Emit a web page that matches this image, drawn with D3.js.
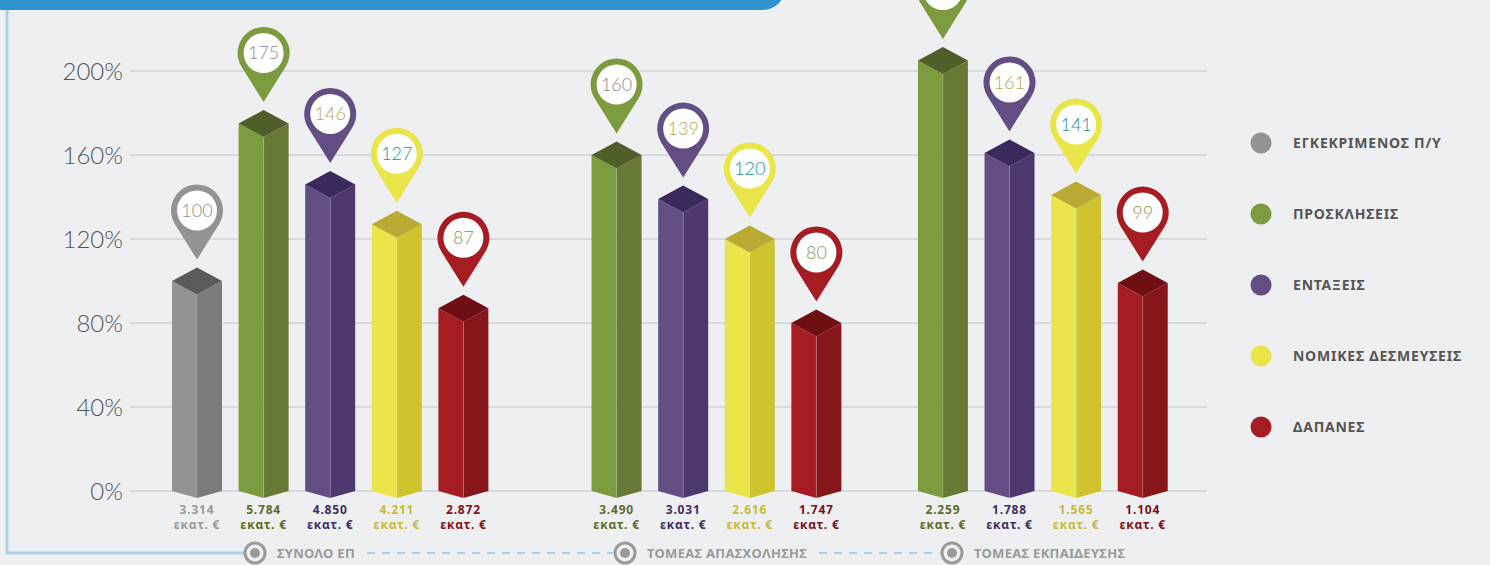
<!DOCTYPE html>
<html>
<head>
<meta charset="utf-8">
<script src="https://cdn.jsdelivr.net/npm/d3@7"></script>
<style>
	body { margin: 0; background: #eeeff1; }
	svg { display: block; }
	.tick-label { font-family: Lato, "Open Sans", sans-serif; font-weight: 300; font-size: 24px; fill: #555; }
	.pin-label { font-family: Lato, "Open Sans", sans-serif; font-weight: 300; font-size: 18px; }
	.amount { font-family: "Noto Sans", Lato, sans-serif; font-weight: 700; font-size: 12px; letter-spacing: 0.8px; }
	.legend-label { font-family: "Noto Sans", Lato, sans-serif; font-weight: 700; font-size: 14px; fill: #555; letter-spacing: 0.8px; }
	.group-label { font-family: "Noto Sans", Lato, sans-serif; font-weight: 700; font-size: 13px; fill: #9a9a9a; letter-spacing: 0.3px; }
</style>
</head>
<body>
<div id="chart"></div>
<script>

// data
const groups = ["ΣΥΝΟΛΟ ΕΠ", "ΤΟΜΕΑΣ ΑΠΑΣΧΟΛΗΣΗΣ", "ΤΟΜΕΑΣ ΕΚΠΑΙΔΕΥΣΗΣ"]
const series = ["ΕΓΚΕΚΡΙΜΕΝΟΣ Π/Υ", "ΠΡΟΣΚΛΗΣΕΙΣ", "ΕΝΤΑΞΕΙΣ", "ΝΟΜΙΚΕΣ ΔΕΣΜΕΥΣΕΙΣ", "ΔΑΠΑΝΕΣ"]

const pctTotal = [100, 175, 146, 127, 87]
const pctEmployment = [null, 160, 139, 120, 80]
const pctEducation = [null, 205, 161, 141, 99]

const amountTotal = ["3.314", "5.784", "4.850", "4.211", "2.872"]
const amountEmployment = [null, "3.490", "3.031", "2.616", "1.747"]
const amountEducation = [null, "2.259", "1.788", "1.565", "1.104"]
const amountUnit = "εκατ. €"

const yTicks = [0, 40, 80, 120, 160, 200]

// colours per series: light face, dark face, top, pin text, amount text
const faceLight = ["#939393", "#7c9a3e", "#624e82", "#e9e54b", "#a51c22"]
const faceDark = ["#7b7b7b", "#677a35", "#4d386e", "#cfc42e", "#87161b"]
const faceTop = ["#5a5a5a", "#4e5f2a", "#3a2a5c", "#b8aa33", "#6e0f14"]
const pinText = ["#8c8c8c", "#8c8c8c", "#b3a84c", "#2b8d99", "#8a9a45"]
const amountColor = ["#9a9a9a", "#5a6e25", "#3e2e66", "#c9bb35", "#7e1216"]

class PinChart {

	constructor(parentElement){
		this.parentElement = parentElement
		this.pct = [pctTotal, pctEmployment, pctEducation]
		this.amount = [amountTotal, amountEmployment, amountEducation]
		this.initVis()
	}

	initVis(){
		let vis = this
		vis.width = 1490
		vis.height = 565

		vis.svg = d3.select(vis.parentElement).append("svg")
			.attr("width", vis.width)
			.attr("height", vis.height)

		vis.y = d3.scaleLinear()
			.domain([0, 200])
			.range([491, 71])

		// bars sit on slots, groups are shifted by an offset in slots
		vis.groupOffset = [0, 5.3, 10.2]
		vis.x = d3.scaleLinear()
			.domain([0, 1])
			.range([197, 263.6])

		vis.hw = 25    // half width of the prism
		vis.dt = 13.5  // half height of top diamond
		vis.db = 7     // depth of the bottom V

		// frame: blue banner and light blue line
		vis.svg.append("rect")
			.attr("x", -30).attr("y", -40)
			.attr("width", 815).attr("height", 50)
			.attr("rx", 22)
			.attr("fill", "#2f93d0")

		vis.svg.append("path")
			.attr("d", "M7,10 L7,553 L244,553")
			.attr("fill", "none")
			.attr("stroke", "#a9d0ea")
			.attr("stroke-width", 3)

		// grid
		vis.svg.selectAll(".grid")
			.data(yTicks)
			.enter()
			.append("line")
			.attr("class", "grid")
			.attr("x1", 130)
			.attr("x2", 1207)
			.attr("y1", d => vis.y(d))
			.attr("y2", d => vis.y(d))
			.attr("stroke", "#d9dadd")
			.attr("stroke-width", 2)

		vis.svg.selectAll(".tick-label")
			.data(yTicks)
			.enter()
			.append("text")
			.attr("class", "tick-label")
			.attr("x", 123)
			.attr("y", d => vis.y(d))
			.attr("dy", "0.36em")
			.attr("text-anchor", "end")
			.text(d => d + "%")

		vis.wrangleData()
	}

	wrangleData(){
		let vis = this
		vis.bars = []
		groups.forEach(function(g, gi){
			vis.pct[gi].forEach(function(v, si){
				if (v == null) return
				vis.bars.push({
					group: gi,
					series: si,
					value: v,
					amount: vis.amount[gi][si],
					cx: vis.x(vis.groupOffset[gi] + si)
				})
			})
		})
		vis.updateVis()
	}

	updateVis(){
		let vis = this
		let hw = vis.hw, dt = vis.dt, db = vis.db
		let y0 = vis.y(0)

		let bar = vis.svg.selectAll(".bar")
			.data(vis.bars)
			.enter()
			.append("g")
			.attr("class", "bar")

		bar.append("path")
			.attr("fill", d => faceLight[d.series])
			.attr("d", function(d){
				let yc = vis.y(d.value)
				return "M" + (d.cx - hw) + "," + yc + "L" + d.cx + "," + (yc + dt) +
					"L" + d.cx + "," + (y0 + db) + "L" + (d.cx - hw) + "," + y0 + "Z"
			})

		bar.append("path")
			.attr("fill", d => faceDark[d.series])
			.attr("d", function(d){
				let yc = vis.y(d.value)
				return "M" + d.cx + "," + (yc + dt) + "L" + (d.cx + hw) + "," + yc +
					"L" + (d.cx + hw) + "," + y0 + "L" + d.cx + "," + (y0 + db) + "Z"
			})

		bar.append("path")
			.attr("fill", d => faceTop[d.series])
			.attr("d", function(d){
				let yc = vis.y(d.value)
				return "M" + d.cx + "," + (yc - dt) + "L" + (d.cx + hw) + "," + yc +
					"L" + d.cx + "," + (yc + dt) + "L" + (d.cx - hw) + "," + yc + "Z"
			})

		// thin highlight on the front edge
		bar.append("line")
			.attr("x1", d => d.cx).attr("x2", d => d.cx)
			.attr("y1", d => vis.y(d.value) + dt)
			.attr("y2", y0 + db)
			.attr("stroke", "#ffffff")
			.attr("stroke-opacity", 0.18)
			.attr("stroke-width", 1)

		// pins
		let R = 26, r = 20, dist = 49
		let a = Math.acos(R / dist)
		let sx = R * Math.sin(a), sy = R * Math.cos(a)
		let pinPath = "M0," + dist + "L" + sx + "," + sy +
			"A" + R + "," + R + " 0 1 0 " + (-sx) + "," + sy + "Z"

		let pin = bar.append("g")
			.attr("transform", function(d){
				let tip = vis.y(d.value) - dt - 8
				return "translate(" + d.cx + "," + (tip - dist) + ")"
			})

		pin.append("path")
			.attr("d", pinPath)
			.attr("fill", d => faceLight[d.series])

		pin.append("circle")
			.attr("r", r)
			.attr("fill", "#ffffff")

		pin.append("text")
			.attr("class", "pin-label")
			.attr("text-anchor", "middle")
			.attr("dy", "0.36em")
			.attr("fill", d => pinText[d.series])
			.text(d => d.value)

		// amounts under the bars, two lines
		bar.append("text")
			.attr("class", "amount")
			.attr("text-anchor", "middle")
			.attr("fill", d => amountColor[d.series])
			.attr("x", d => d.cx)
			.attr("y", y0 + 23)
			.text(d => d.amount)

		bar.append("text")
			.attr("class", "amount")
			.attr("text-anchor", "middle")
			.attr("fill", d => amountColor[d.series])
			.attr("x", d => d.cx)
			.attr("y", y0 + 38)
			.text(amountUnit)

		// group labels along the bottom line
		vis.groupLabelX = [255, 625, 952]
		let gl = vis.svg.selectAll(".group")
			.data(groups)
			.enter()
			.append("g")
			.attr("class", "group")
			.attr("transform", (d, i) => "translate(" + vis.groupLabelX[i] + ",553)")

		gl.append("circle")
			.attr("r", 10)
			.attr("fill", "none")
			.attr("stroke", "#9a9a9a")
			.attr("stroke-width", 3)

		gl.append("circle")
			.attr("r", 5)
			.attr("fill", "#9a9a9a")

		gl.append("text")
			.attr("class", "group-label")
			.attr("x", 22)
			.attr("dy", "0.36em")
			.text(d => d)

		// dashed connectors between group labels
		gl.each(function(d, i){
			if (i == groups.length - 1) return
			let w = this.querySelector("text").getComputedTextLength()
			vis.svg.insert("line", ".group")
				.attr("x1", vis.groupLabelX[i] + 22 + w + 12)
				.attr("x2", vis.groupLabelX[i + 1] - 12)
				.attr("y1", 553).attr("y2", 553)
				.attr("stroke", "#a9d0ea")
				.attr("stroke-width", 2)
				.attr("stroke-dasharray", "8,7")
		})

		// legend
		let lg = vis.svg.selectAll(".legend")
			.data(series)
			.enter()
			.append("g")
			.attr("class", "legend")
			.attr("transform", (d, i) => "translate(1261," + (143 + i * 71) + ")")

		lg.append("circle")
			.attr("r", 10.5)
			.attr("fill", (d, i) => faceLight[i])

		lg.append("text")
			.attr("class", "legend-label")
			.attr("x", 32)
			.attr("dy", "0.36em")
			.text(d => d)
	}
}

new PinChart("#chart")
</script>
</body>
</html>
